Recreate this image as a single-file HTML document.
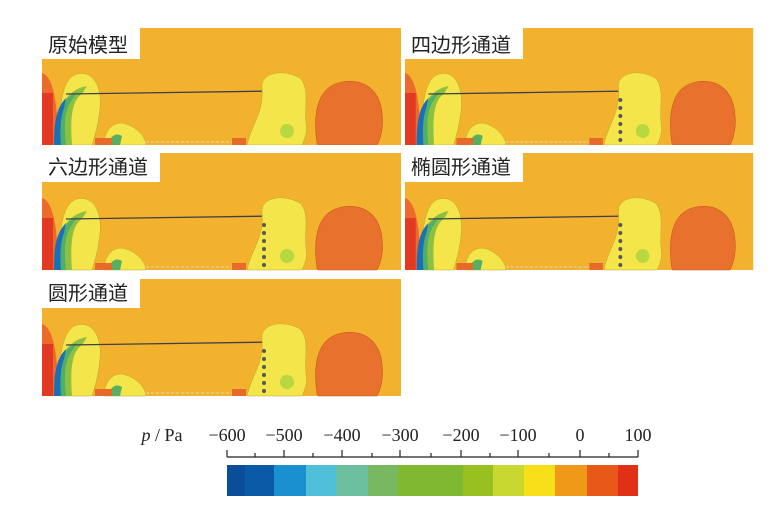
<!DOCTYPE html>
<html><head><meta charset="utf-8"><style>
body{margin:0;background:#fff;width:779px;height:522px;overflow:hidden;position:relative;font-family:"Liberation Serif","Noto Serif CJK SC",serif}
svg{position:absolute;left:0;top:0}
</style></head><body>
<svg width="779" height="522" viewBox="0 0 779 522">
<defs>
<g id="p">
<rect x="0" y="0" width="359" height="117" fill="#f3b22e"/>
<path d="M275,115 C270,80 278,58 300,54 C325,50 338,65 340,85 C342,100 338,112 335,117 L276,117Z" fill="#e8712e" stroke="#c85a20" stroke-width="0.6"/>
<path d="M0,45 C10,48 16,70 16,117 L0,117Z" fill="#ec6a2a"/>
<rect x="0" y="65" width="11" height="52" fill="#e23a22"/>
<path d="M18,117 C16,80 20,50 35,46 C52,42 60,60 58,80 C56,100 52,110 50,117Z" fill="#f4e64a" stroke="#b8a830" stroke-width="0.5"/>
<path d="M12,117 C12,85 22,62 45,58 L40,66 C30,72 28,90 30,117Z" fill="#8cc040"/>
<path d="M12,117 C12,90 18,72 35,64 L30,72 C22,82 22,100 24,117Z" fill="#4fae6a"/>
<path d="M12,117 C12,95 14,80 24,70 L22,80 C18,90 18,105 19,117Z" fill="#1a70b8"/>
<line x1="24" y1="66" x2="235" y2="63" stroke="#40404a" stroke-width="1.3"/>
<path d="M205,117 C210,95 222,85 220,60 C218,45 240,40 258,50 C268,60 262,80 264,95 C266,105 262,112 260,117Z" fill="#f4e64a" stroke="#b8a830" stroke-width="0.5"/>
<ellipse cx="245" cy="103" rx="7" ry="7" fill="#b8d840"/>
<path d="M62,117 C62,102 72,92 84,96 C96,100 104,110 104,117Z" fill="#f4e64a" stroke="#b8a830" stroke-width="0.5"/>
<path d="M66,117 C68,108 74,104 80,108 L78,117Z" fill="#5aae60"/>
<rect x="53" y="110" width="17" height="7" fill="#e86a2a"/>
<rect x="190" y="110" width="14" height="7" fill="#e86a2a"/>
<line x1="104" y1="114" x2="190" y2="114" stroke="#d8d8c0" stroke-width="1" stroke-dasharray="3,2"/>
</g>
<g id="d"><g fill="#555">
<circle cx="222" cy="72" r="2"/><circle cx="222" cy="80" r="2"/><circle cx="222" cy="88" r="2"/><circle cx="222" cy="96" r="2"/><circle cx="222" cy="104" r="2"/><circle cx="222" cy="112" r="2"/></g></g>
</defs>
<g transform="translate(42,28)"><use href="#p"/></g>
<g transform="translate(405,28) scale(0.97,1)"><use href="#p"/><use href="#d"/></g>
<g transform="translate(42,153)"><use href="#p"/><use href="#d"/></g>
<g transform="translate(405,153) scale(0.97,1)"><use href="#p"/><use href="#d"/></g>
<g transform="translate(42,279)"><use href="#p"/><use href="#d"/></g>
<g font-size="20" font-family="Liberation Sans,Noto Sans CJK SC,sans-serif" fill="#222">
<rect x="42" y="28" width="98" height="31" fill="#fff"/><text x="48" y="52">原始模型</text>
<rect x="405" y="28" width="118" height="31" fill="#fff"/><text x="411" y="52">四边形通道</text>
<rect x="42" y="150" width="118" height="32" fill="#fff"/><text x="48" y="174">六边形通道</text>
<rect x="405" y="150" width="118" height="32" fill="#fff"/><text x="411" y="174">椭圆形通道</text>
<rect x="42" y="276" width="98" height="32" fill="#fff"/><text x="48" y="300">圆形通道</text>
</g>
<rect x="42" y="145" width="711" height="5" fill="#fff"/>
<rect x="42" y="271" width="711" height="5" fill="#fff"/>
<g font-size="18" fill="#222" text-anchor="middle">
<text x="162" y="441" text-anchor="middle"><tspan font-style="italic">p</tspan> / Pa</text>
<text x="227" y="441">−600</text><text x="284" y="441">−500</text><text x="342" y="441">−400</text><text x="400" y="441">−300</text><text x="461" y="441">−200</text><text x="518" y="441">−100</text><text x="580" y="441">0</text><text x="638" y="441">100</text>
</g>
<g stroke="#222" stroke-width="1.2">
<line x1="227" y1="457" x2="638" y2="457"/>
<line x1="227" y1="450" x2="227" y2="457"/><line x1="284" y1="450" x2="284" y2="457"/><line x1="342" y1="450" x2="342" y2="457"/><line x1="400" y1="450" x2="400" y2="457"/><line x1="461" y1="450" x2="461" y2="457"/><line x1="518" y1="450" x2="518" y2="457"/><line x1="580" y1="450" x2="580" y2="457"/><line x1="638" y1="450" x2="638" y2="457"/>
<line x1="255" y1="453" x2="255" y2="457"/><line x1="313" y1="453" x2="313" y2="457"/><line x1="372" y1="453" x2="372" y2="457"/><line x1="431" y1="453" x2="431" y2="457"/><line x1="490" y1="453" x2="490" y2="457"/><line x1="549" y1="453" x2="549" y2="457"/><line x1="609" y1="453" x2="609" y2="457"/>
</g>
<g>
<rect x="227" y="465" width="19" height="31" fill="#0a4e9a"/>
<rect x="245" y="465" width="30" height="31" fill="#0a5aa8"/>
<rect x="274" y="465" width="33" height="31" fill="#1a90d0"/>
<rect x="306" y="465" width="31" height="31" fill="#50c0d8"/>
<rect x="336" y="465" width="33" height="31" fill="#6cc0a0"/>
<rect x="368" y="465" width="31" height="31" fill="#78b860"/>
<rect x="398" y="465" width="66" height="31" fill="#80b830"/>
<rect x="463" y="465" width="31" height="31" fill="#98c020"/>
<rect x="493" y="465" width="32" height="31" fill="#c8d830"/>
<rect x="524" y="465" width="32" height="31" fill="#f8e018"/>
<rect x="555" y="465" width="33" height="31" fill="#f09818"/>
<rect x="587" y="465" width="32" height="31" fill="#e85818"/>
<rect x="618" y="465" width="20" height="31" fill="#e03018"/>
</g>
</svg>
</body></html>
